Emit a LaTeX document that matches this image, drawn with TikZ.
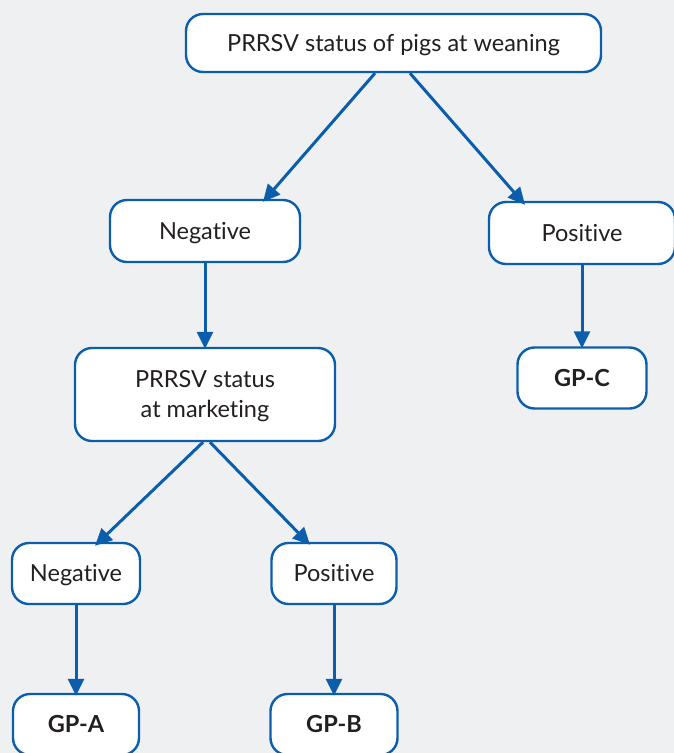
\documentclass[tikz,border=0pt]{standalone}
\usepackage{fontspec}
\setmainfont{Lato}[Ligatures={NoCommon,NoRequired,NoContextual,NoRare}]
\usetikzlibrary{arrows.meta,calc}
\definecolor{bblue}{HTML}{0B5EAB}
\definecolor{bgray}{HTML}{EFF0F2}
\definecolor{tgray}{HTML}{231F20}
\begin{document}
\begin{tikzpicture}[x=1pt,y=-1pt,
  box/.style={draw=bblue,line width=2.4pt,fill=white,rounded corners=17pt,
    text=tgray,font=\fontsize{23.5}{30}\selectfont,align=center,inner sep=0pt,
    text depth=1pt},
  bbox/.style={box,font=\fontsize{23.5}{30}\selectfont\bfseries},
  arr/.style={draw=bblue,line width=3pt,-{Triangle[length=17pt,width=16pt]}}]
\fill[bgray] (0,0) rectangle (674,753);
\useasboundingbox (0,0) rectangle (674,753);
\node[box,minimum width=415pt,minimum height=58pt] (top) at (393.5,43) {PRRSV status of pigs at weaning};
\node[box,minimum width=190pt,minimum height=62pt] (neg1) at (205,231) {Negative};
\node[box,minimum width=186pt,minimum height=62pt] (pos1) at (582,233) {Positive};
\node[bbox,minimum width=129pt,minimum height=61pt] (gpc) at (582,378) {GP-C};
\node[box,minimum width=260pt,minimum height=93pt] (mkt) at (205,394.5) {PRRSV status\\at marketing};
\node[box,minimum width=128pt,minimum height=61pt] (neg2) at (76,573.5) {Negative};
\node[box,minimum width=125pt,minimum height=61pt] (pos2) at (334,573.5) {Positive};
\node[bbox,minimum width=126pt,minimum height=61pt] (gpa) at (76,724.5) {GP-A};
\node[bbox,minimum width=127pt,minimum height=61pt] (gpb) at (334,724.5) {GP-B};
\draw[arr] ([xshift=-18.5pt]top.south) -- ([xshift=58pt,yshift=-3pt]neg1.north);
\draw[arr] ([xshift=16.5pt]top.south) -- ([xshift=-57pt,yshift=-4pt]pos1.north);
\draw[arr] (neg1.south) -- ([yshift=-2pt]mkt.north);
\draw[arr] (pos1.south) -- ([yshift=-2pt]gpc.north);
\draw[arr] ([xshift=-2pt]mkt.south) -- ([xshift=19pt,yshift=-4pt]neg2.north);
\draw[arr] ([xshift=5pt]mkt.south) -- ([xshift=-24pt,yshift=-3pt]pos2.north);
\draw[arr] (neg2.south) -- ([yshift=-3pt]gpa.north);
\draw[arr] (pos2.south) -- ([yshift=-3pt]gpb.north);
\end{tikzpicture}
\end{document}
